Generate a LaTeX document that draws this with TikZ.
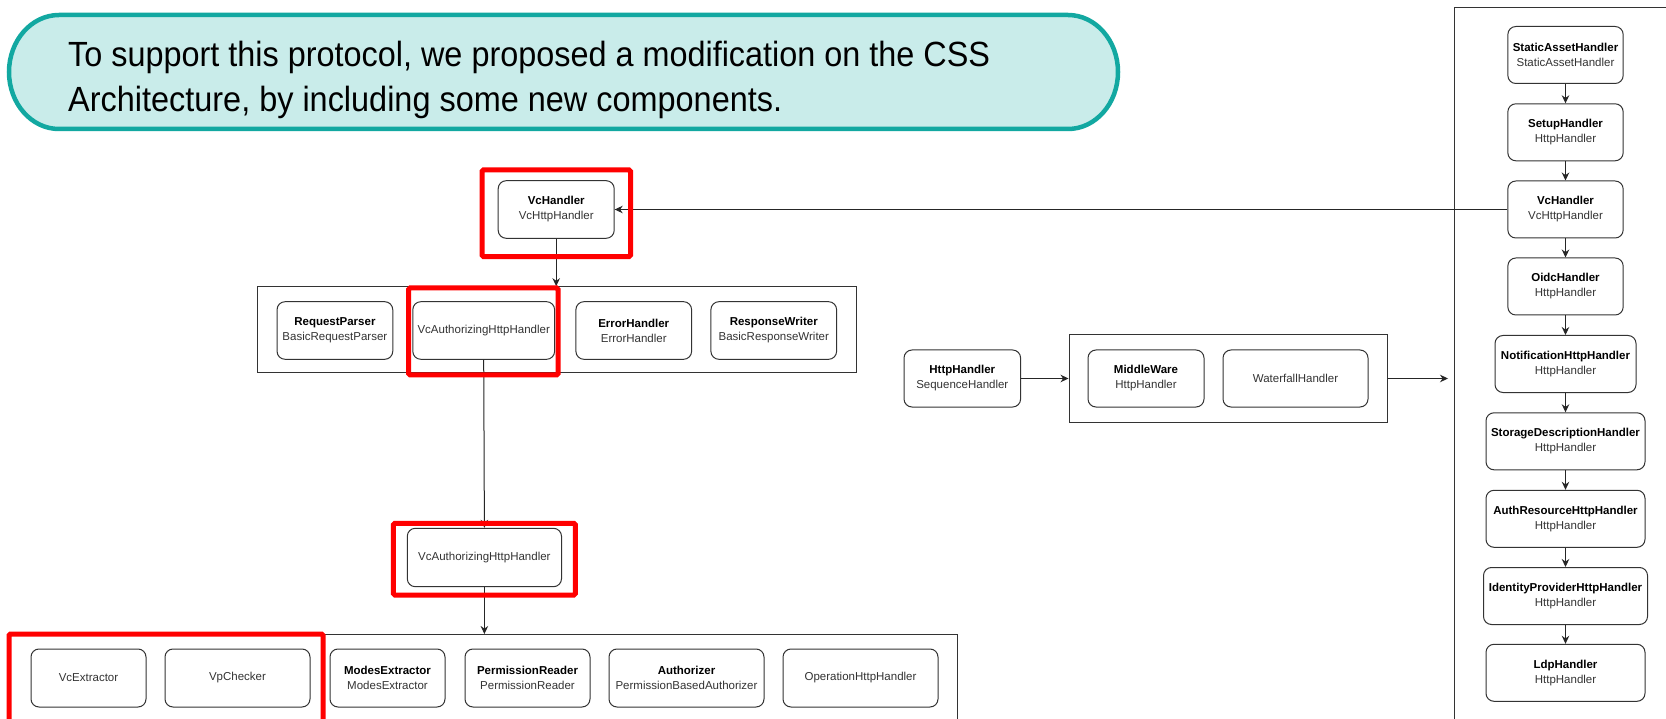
\documentclass[tikz,border=0pt]{standalone}
\usepackage{fontspec}
\setmainfont{Liberation Sans}
\newfontfamily\bannerfont{Liberation Sans}
\usetikzlibrary{arrows.meta}

\definecolor{bannerline}{HTML}{12A8A1}
\definecolor{bannerfill}{HTML}{C9ECEA}
\definecolor{nodeline}{HTML}{333333}
\definecolor{subtxt}{HTML}{333333}
\definecolor{hlred}{HTML}{FF0000}

\newcommand\twoline[2]{\textbf{#1}\\{\color{subtxt}#2}}
\newcommand\oneline[1]{{\color{subtxt}#1}}

\tikzset{
  comp/.style={draw=nodeline, line width=1pt, rounded corners=8pt, fill=white,
    minimum height=57.6pt, inner sep=0pt, align=center,
    font=\fontsize{11.5}{15}\selectfont},
  frame/.style={draw=nodeline, line width=1pt, inner sep=0pt},
  hl/.style={draw=hlred, line width=5pt, rounded corners=1.5pt},
  flow/.style={draw=black!85, line width=1pt, -{Stealth[length=8pt,width=7.5pt]}},
}

\begin{document}
\begin{tikzpicture}[x=1pt,y=-1pt]
\useasboundingbox[fill=white] (0,0) rectangle (1666,719);

% ---- banner ----
\fill[bannerfill, draw=bannerline, line width=4.5pt]
  (59,15) -- (1068,15)
  arc[start angle=-90, end angle=90, x radius=50, y radius=57]
  -- (59,129)
  arc[start angle=90, end angle=270, x radius=50, y radius=57] -- cycle;
\node[anchor=base west, inner sep=0pt] (line1) at (68,66.7)
  {\resizebox{922pt}{\height}{\bannerfont\fontsize{35}{40}\selectfont To support this protocol, we proposed a modification on the CSS}};
\node[anchor=base west, inner sep=0pt] (line2) at (68,112)
  {\resizebox{714pt}{\height}{\bannerfont\fontsize{35}{40}\selectfont Architecture, by including some new components.}};

% ---- containers ----
\node[frame, minimum width=598.3pt, minimum height=86.3pt] (c1) at (556.85,329.85) {};
\node[frame, minimum width=947pt, minimum height=126pt, anchor=north west] (c2) at (10,634) {};
\node[frame, minimum width=318pt, minimum height=87pt] (c3) at (1228,378.5) {};
\coordinate (rtl) at (1454,7.3);
\draw[nodeline, line width=1pt] (1690,7.3) -- (rtl) -- (1454,740);

% ---- left column ----
\node[comp, minimum width=116pt] (vc1) at (556.2,209.5) {\twoline{VcHandler}{VcHttpHandler}};

\node[comp, minimum width=115.7pt] (rp) at (334.9,330.5) {\twoline{RequestParser}{BasicRequestParser}};
\node[comp, minimum width=141.8pt] (va1) at (483.7,330.5) {\oneline{VcAuthorizingHttpHandler}};
\node[comp, minimum width=115.7pt] (eh) at (633.75,330.5) {\twoline{ErrorHandler}{ErrorHandler}};
\node[comp, minimum width=125.7pt] (rw) at (773.75,330.5) {\twoline{ResponseWriter}{BasicResponseWriter}};

\node[comp, minimum width=154.2pt, minimum height=58.4pt] (va2) at (484.4,557.5) {\oneline{VcAuthorizingHttpHandler}};

\node[comp, minimum width=115pt, minimum height=58pt] (ve) at (88.5,678) {\oneline{VcExtractor}};
\node[comp, minimum width=145pt, minimum height=58pt] (vp) at (237.5,678) {\oneline{VpChecker}};
\node[comp, minimum width=115pt, minimum height=58pt] (me) at (387.5,678) {\twoline{ModesExtractor}{ModesExtractor}};
\node[comp, minimum width=125pt, minimum height=58pt] (pr) at (527.5,678) {\twoline{PermissionReader}{PermissionReader}};
\node[comp, minimum width=155pt, minimum height=58pt] (au) at (686.5,678) {\twoline{Authorizer}{PermissionBasedAuthorizer}};
\node[comp, minimum width=155pt, minimum height=58pt] (op) at (860.5,678) {\oneline{OperationHttpHandler}};

% ---- middle ----
\node[comp, minimum width=116.6pt, minimum height=57pt] (hh) at (962.3,378.5) {\twoline{HttpHandler}{SequenceHandler}};
\node[comp, minimum width=116pt, minimum height=57pt] (mw) at (1146,378.5) {\twoline{MiddleWare}{HttpHandler}};
\node[comp, minimum width=145pt, minimum height=57pt] (wf) at (1295.5,378.5) {\oneline{WaterfallHandler}};

% ---- right column ----
\node[comp, minimum width=115.3pt, minimum height=57pt] (r1) at (1565.5,55) {\twoline{StaticAssetHandler}{StaticAssetHandler}};
\node[comp, minimum width=115.3pt, minimum height=57pt] (r2) at (1565.5,132.3) {\twoline{SetupHandler}{HttpHandler}};
\node[comp, minimum width=115.3pt, minimum height=57pt] (r3) at (1565.5,209.5) {\twoline{VcHandler}{VcHttpHandler}};
\node[comp, minimum width=115.3pt, minimum height=57pt] (r4) at (1565.5,286.5) {\twoline{OidcHandler}{HttpHandler}};
\node[comp, minimum width=141pt, minimum height=57pt] (r5) at (1565.5,364) {\twoline{NotificationHttpHandler}{HttpHandler}};
\node[comp, minimum width=159pt, minimum height=57pt] (r6) at (1565.5,441.3) {\twoline{StorageDescriptionHandler}{HttpHandler}};
\node[comp, minimum width=159pt, minimum height=57pt] (r7) at (1565.5,518.8) {\twoline{AuthResourceHttpHandler}{HttpHandler}};
\node[comp, minimum width=164pt, minimum height=57pt] (r8) at (1565.5,596) {\twoline{IdentityProviderHttpHandler}{HttpHandler}};
\node[comp, minimum width=159pt, minimum height=57pt] (r9) at (1565.5,672.8) {\twoline{LdpHandler}{HttpHandler}};

% ---- connectors ----
\foreach \a/\b in {r1/r2,r2/r3,r3/r4,r4/r5,r5/r6,r6/r7,r7/r8,r8/r9}
  \draw[flow] (\a.south) -- (\b.north);
\draw[flow] (r3.west) -- (vc1.east);
\draw[flow] (vc1.south) -- (vc1.south |- c1.north);
\draw[flow] (va1.south) -- (va2.north);
\draw[flow] (va2.south) -- (va2.south |- c2.north);
\draw[flow] (hh.east) -- (c3.west);
\draw[flow, shorten >=6pt] (c3.east) -- (rtl |- c3.east);

% ---- highlight frames ----
\draw[hl] (482,170) rectangle (630.5,256.7);
\draw[hl] (408.7,288) rectangle (558,375);
\draw[hl] (393.4,523.3) rectangle (575.3,595);
\draw[hl] (9,634) rectangle (323,724);
\end{tikzpicture}
\end{document}
